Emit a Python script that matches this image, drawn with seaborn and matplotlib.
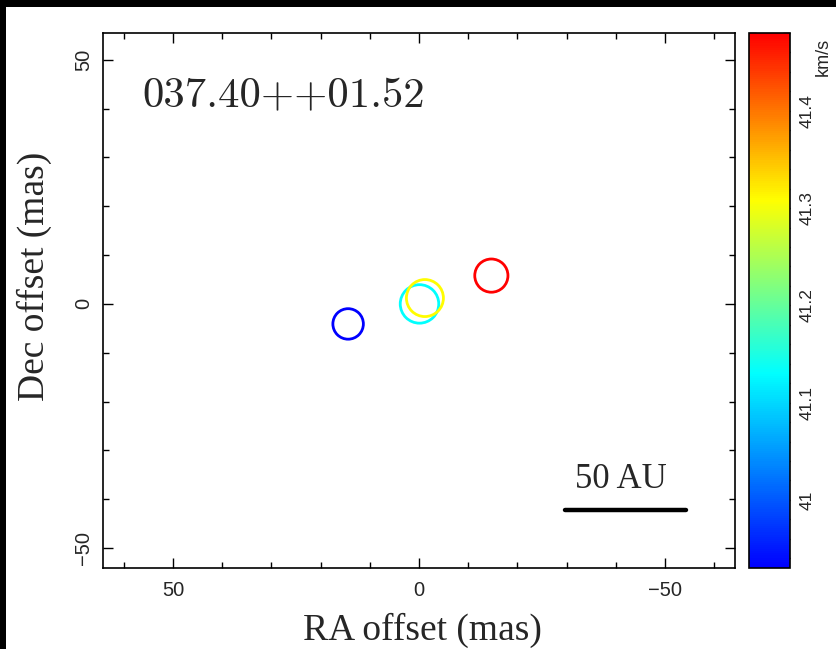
import numpy as np
import pandas as pd
import matplotlib
matplotlib.use("Agg")
import matplotlib.pyplot as plt
import seaborn as sns
from matplotlib.colors import LinearSegmentedColormap, Normalize
from matplotlib.ticker import MultipleLocator, FixedLocator, FuncFormatter
from matplotlib.patches import Rectangle

# ---------------- data ----------------
ra_offset = [14.4, -0.1, -1.2, -14.7]        # mas
dec_offset = [-4.1, 0.0, 1.2, 5.8]           # mas
velocity = [40.93, 41.13, 41.31, 41.48]      # km/s
spot_size = [30.5, 38.5, 37.0, 33.2]         # relative spot diameter
source_name = "037.40++01.52"
x_ticks = [50, 0, -50]
y_ticks = [-50, 0, 50]
cbar_ticks = [41.0, 41.1, 41.2, 41.3, 41.4]
cbar_unit = "km/s"
scale_label = "50 AU"
x_label = "RA offset (mas)"
y_label = "Dec offset (mas)"

df = pd.DataFrame({"ra": ra_offset, "dec": dec_offset,
                   "vel": velocity, "spot": spot_size})

# ---------------- style ----------------
sns.set_style("ticks")
plt.rcParams["font.family"] = ["Liberation Sans", "DejaVu Sans"]

cmap = LinearSegmentedColormap.from_list(
    "rainbow_idl",
    [(0.0, (0, 0, 1)), (0.364, (0, 1, 1)), (0.688, (1, 1, 0)), (1.0, (1, 0, 0))])
norm = Normalize(vmin=min(velocity), vmax=max(velocity))

fig = plt.figure(figsize=(8.37, 6.49), dpi=100)
fig.patch.set_facecolor("white")
ax = fig.add_axes([103 / 837, 81 / 649, 632 / 837, 535 / 649])

sizes = {d: (d * 0.72) ** 2 for d in spot_size}
sns.scatterplot(data=df, x="ra", y="dec", hue="vel", palette=cmap,
                hue_norm=norm, size="spot", sizes=sizes, marker="o",
                legend=False, ax=ax, zorder=3)
pts = ax.collections[0]
fc = pts.get_facecolors()
pts.set_edgecolors(fc)
pts.set_facecolors("none")
pts.set_linewidths(2.0)

ax.set_xlim(64.2, -64.2)
ax.set_ylim(-54.1, 55.5)
ax.xaxis.set_major_locator(FixedLocator(x_ticks))
ax.yaxis.set_major_locator(FixedLocator(y_ticks))
ax.xaxis.set_minor_locator(MultipleLocator(10))
ax.yaxis.set_minor_locator(MultipleLocator(10))
ax.tick_params(which="both", direction="in", top=True, right=True,
               width=1.0, color="black")
ax.tick_params(which="major", length=7)
ax.tick_params(which="minor", length=4)
ax.tick_params(axis="x", pad=9, labelsize=14.5)
ax.tick_params(axis="y", pad=7, labelsize=14.5, labelrotation=90)
for lab in ax.get_yticklabels():
    lab.set_va("center")
for s in ax.spines.values():
    s.set_linewidth(1.2)
    s.set_color("black")

ax.set_xlabel(x_label, fontfamily="Liberation Serif", fontsize=27)
ax.set_ylabel(y_label, fontfamily="Liberation Serif", fontsize=27)
ax.xaxis.label.set_va("center")
ax.yaxis.label.set_va("center")
ax.xaxis.set_label_coords(0.505, -0.117)
ax.yaxis.set_label_coords(-0.108, 0.545)

# source name
ax.text(0.0617, 0.862, source_name, transform=ax.transAxes,
        fontfamily="cmr10", fontsize=30.8, ha="left", va="baseline")

# scale bar
ax.plot([-29.7, -54.3], [-42.2, -42.2], color="black", lw=3.2,
        solid_capstyle="round", zorder=4)
ax.text(-41.0, -37.7, scale_label, fontfamily="Liberation Serif",
        fontsize=25, ha="center", va="baseline")

# colorbar
cax = fig.add_axes([749 / 837, 81 / 649, 41 / 837, 535 / 649])
sm = plt.cm.ScalarMappable(norm=norm, cmap=cmap)
cb = fig.colorbar(sm, cax=cax)
cb.set_ticks(cbar_ticks)
cax.yaxis.set_minor_locator(MultipleLocator(0.02))
cax.yaxis.set_major_formatter(FuncFormatter(lambda v, p: f"{v:g}"))
cax.tick_params(which="both", direction="in", left=True, right=True,
                length=5, width=1.0, color="black")
cax.tick_params(axis="y", labelsize=12.5, labelrotation=90, pad=7)
for lab in cax.get_yticklabels():
    lab.set_va("center")
cb.outline.set_linewidth(1.2)
cb.outline.set_edgecolor("black")
cax.text(1.80, 0.955, cbar_unit, transform=cax.transAxes, rotation=90,
         fontsize=13, ha="center", va="center")

# black frame strips of the reference image
fig.add_artist(Rectangle((0, 1 - 7 / 649), 1, 7 / 649, transform=fig.transFigure,
                         facecolor="black", edgecolor="none", zorder=10))
fig.add_artist(Rectangle((0, 0), 6 / 837, 1, transform=fig.transFigure,
                         facecolor="black", edgecolor="none", zorder=10))

fig.savefig("out.png", dpi=100)
